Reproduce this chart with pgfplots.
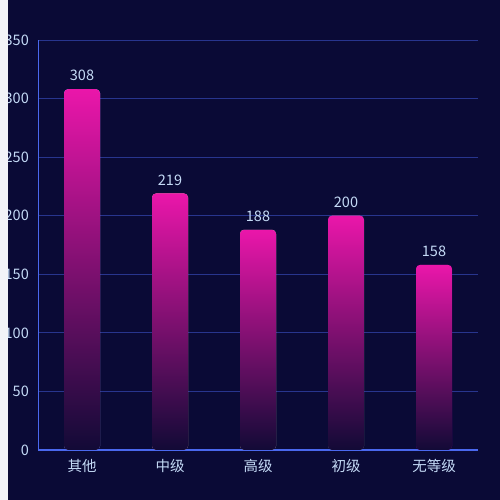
\documentclass[border=0pt]{standalone}
\usepackage{pgfplots}
\pgfplotsset{compat=1.18}
\usepackage{fontspec}
\setmainfont{Noto Sans CJK SC}
\definecolor{bg}{HTML}{0A0A36}
\definecolor{gridc}{HTML}{28358E}
\definecolor{axisblue}{HTML}{4A68EE}
\definecolor{lab}{HTML}{C4DAF6}
\definecolor{barTop}{HTML}{EA16AA}
\definecolor{barBot}{HTML}{120A36}
\definecolor{strip}{HTML}{F2F3F8}
\begin{document}
\begin{tikzpicture}[x=1pt,y=1pt]
\fill[bg] (-38,-50) rectangle (462,450);
\begin{axis}[at={(0,0)}, anchor=south west, scale only axis,
  width=440pt, height=410pt,
  ymin=0, ymax=350, xmin=-0.5, xmax=4.5,
  ytick={0,50,...,350},
  xtick={0,1,2,3,4}, xticklabels={其他,中级,高级,初级,无等级},
  ymajorgrids, grid style={color=gridc, line width=0.9pt},
  axis x line*=bottom, axis y line*=left,
  axis line style={color=axisblue, line width=1pt, -},
  major tick length=0pt, tick style={draw=none},
  ticklabel style={font=\fontsize{14.5}{16}\selectfont, text=lab},
  yticklabel style={anchor=east, inner sep=0pt, xshift=-9pt},
  xticklabel style={anchor=north, inner sep=0pt, yshift=-9pt},
  /pgf/number format/assume math mode=true,
  ybar, bar width=36pt, bar shift=0pt,
  nodes near coords,
  nodes near coords style={anchor=south, inner sep=0pt, yshift=8pt, font=\fontsize{14.5}{16}\selectfont, text=lab},
  every axis plot/.append style={draw=none, top color=barTop, bottom color=barBot, rounded corners=4pt, bar shift=0pt},
  clip=false]
\addplot coordinates {(0,308)};
\addplot coordinates {(1,219)};
\addplot coordinates {(2,188)};
\addplot coordinates {(3,200)};
\addplot coordinates {(4,158)};
\end{axis}
\fill[strip] (-38,-50) rectangle (-30,450);
\pgfresetboundingbox
\path (-38,-50) rectangle (462,450);
\end{tikzpicture}
\end{document}
